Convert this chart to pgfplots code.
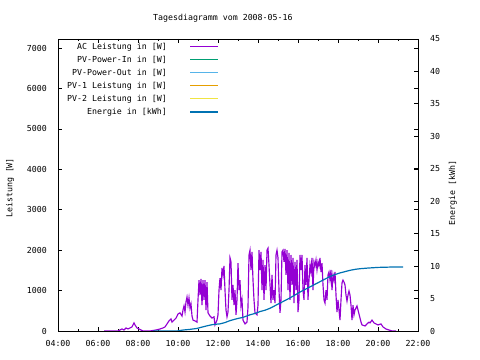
\documentclass[border=0pt]{standalone}
\usepackage{fontspec}
\setmainfont{DejaVu Sans Mono}
\usepackage{pgfplots}
\usepackage{pgfplotstable}
\pgfplotsset{compat=1.18}
\definecolor{cAC}{HTML}{9400D3}
\definecolor{cIn}{HTML}{009E73}
\definecolor{cOut}{HTML}{56B4E9}
\definecolor{cPVa}{HTML}{E69F00}
\definecolor{cPVb}{HTML}{F0E442}
\definecolor{cEn}{HTML}{0072B2}

\pgfplotstableread{
t v
6.30 0
7.00 0
7.10 25
7.20 50
7.30 25
7.40 75
7.50 50
7.60 75
7.70 100
7.80 200
7.85 150
7.95 75
8.05 50
8.15 25
8.25 0
8.60 0
8.90 25
9.10 50
9.25 75
9.35 100
9.45 175
9.55 250
9.65 300
9.70 220
9.80 270
9.90 320
10.00 420
10.10 450
10.20 370
10.25 520
10.30 620
10.35 470
10.40 720
10.45 840
10.50 640
10.55 820
10.60 570
10.65 670
10.70 370
10.75 270
10.85 250
10.95 220
11.00 770
11.05 1260
11.10 890
11.15 1290
11.20 640
11.25 1260
11.30 770
11.35 1260
11.40 520
11.45 1210
11.50 450
11.60 370
11.70 320
11.80 350
11.85 150
11.95 270
12.00 400
12.05 1010
12.10 1310
12.15 1010
12.20 1560
12.25 1390
12.30 1610
12.35 1010
12.40 520
12.45 350
12.50 470
12.55 1010
12.60 1810
12.65 1710
12.70 770
12.75 1140
12.80 640
12.85 1010
12.90 400
12.95 770
13.00 1680
13.05 1010
13.10 1260
13.15 620
13.20 770
13.25 270
13.35 175
13.45 220
13.50 590
13.55 1880
13.60 2000
13.65 1510
13.70 1960
13.75 1260
13.80 770
13.85 450
13.95 400
14.00 640
14.05 2000
14.10 1510
14.15 1960
14.20 1010
14.25 1760
14.30 770
14.35 1630
14.40 1010
14.45 2000
14.50 2050
14.55 1630
14.60 1140
14.65 690
14.70 1390
14.75 770
14.80 1010
14.85 690
14.90 1880
14.95 2000
15.00 1810
15.05 1010
15.10 450
15.15 770
15.20 1960
15.25 2000
15.30 1710
15.35 2030
15.40 1390
15.45 2000
15.50 1010
15.55 1930
15.60 770
15.65 1880
15.70 1140
15.75 1810
15.80 690
15.85 1710
15.90 1010
15.95 1760
16.00 470
16.05 770
16.10 1880
16.15 1510
16.20 1880
16.25 1010
16.30 770
16.35 1630
16.40 1140
16.45 1810
16.50 770
16.55 1260
16.60 1630
16.65 1460
16.70 1810
16.75 1010
16.80 1710
16.85 1610
16.90 1760
16.95 1510
17.00 1710
17.05 1610
17.10 1810
17.15 1460
17.20 1680
17.25 1140
17.30 770
17.35 690
17.40 1010
17.45 770
17.50 1390
17.55 1460
17.60 1260
17.65 1510
17.70 1010
17.75 1390
17.80 1260
17.85 1460
17.90 890
17.95 470
18.00 770
18.05 520
18.10 270
18.15 770
18.20 1190
18.25 1260
18.30 1210
18.35 1140
18.40 890
18.45 740
18.50 890
18.55 990
18.60 890
18.65 640
18.70 270
18.75 640
18.80 400
18.85 520
18.90 570
18.95 620
19.00 520
19.05 420
19.10 320
19.15 220
19.20 150
19.35 125
19.45 175
19.55 220
19.60 200
19.70 270
19.80 200
19.90 175
20.00 150
20.15 175
20.25 100
20.40 50
20.55 25
20.70 0
20.90 0
}\acdata

\pgfplotstableread{
t e
8.75 0
9.95 0
10.25 0.15
10.60 0.25
10.95 0.4
11.45 0.8
11.75 1.0
12.10 1.1
12.35 1.3
12.60 1.6
12.95 1.9
13.25 2.1
13.60 2.5
13.85 2.7
14.10 3.0
14.35 3.2
14.60 3.5
14.85 3.9
15.10 4.3
15.35 4.7
15.60 5.1
15.85 5.55
16.10 6.0
16.35 6.4
16.60 6.8
16.85 7.2
17.10 7.6
17.35 8.0
17.60 8.4
17.85 8.7
18.10 8.95
18.35 9.15
18.60 9.35
18.85 9.5
19.10 9.6
19.50 9.7
20.00 9.8
20.60 9.85
21.25 9.85
}\endata

\begin{document}
\fontsize{8.3}{10}\selectfont
\begin{tikzpicture}
\useasboundingbox (0,0) rectangle (480bp,360bp);
\pgfplotsset{
  every axis/.append style={
    at={(58bp,29bp)}, anchor=south west,
    scale only axis, width=360bp, height=292bp,
    xmin=4, xmax=22,
    major tick length=4bp, minor tick length=2bp,
    tick style={black, line width=0.8bp},
    axis line style={line width=0.9bp},
    /pgf/number format/assume math mode=true,
    /pgf/number format/1000 sep={},
    scaled y ticks=false,
    font=\fontsize{8.3}{10}\selectfont,
    tick label style={font=\fontsize{8.3}{10}\selectfont},
  }
}
\begin{axis}[
  ymin=0, ymax=7225,
  xtick={4,6,...,22},
  xticklabels={04:00,06:00,08:00,10:00,12:00,14:00,16:00,18:00,20:00,22:00},
  minor xtick={5,7,...,21},
  ytick={0,1000,...,7000},
  xticklabel style={inner sep=0pt, yshift=-9bp},
  yticklabel style={inner sep=0pt, xshift=-11bp},
  title={Tagesdiagramm vom 2008-05-16},
  every axis title shift=0pt,
  title style={at={(axis description cs:0.458,1.072)}, anchor=center, inner sep=0pt, yshift=0pt},
  ylabel={Leistung [W]},
  ylabel style={at={(axis description cs:-0.133,0.49)}, anchor=center, inner sep=0pt},
]
\addplot[cAC, line width=1.15bp] table[x=t, y=v] {\acdata};
\end{axis}
\begin{axis}[
  ymin=0, ymax=45,
  axis x line=none,
  axis y line*=right,
  ytick={0,5,...,45},
  yticklabel style={inner sep=0pt, xshift=12bp},
  ylabel={Energie [kWh]},
  ylabel style={at={(axis description cs:1.097,0.473)}, anchor=center, inner sep=0pt},
  legend plot pos=right,
  legend cell align=right,
  legend image code/.code={\draw[#1] (0bp,0bp) -- (28bp,0bp);},
  legend style={at={(axis description cs:0.025,0.9863)}, anchor=north west,
    draw=none, fill=none, inner sep=0pt,
    font=\fontsize{8.3}{10}\selectfont,
    row sep=5.5bp, column sep=23bp,
    nodes={inner sep=0pt, text height=6bp, text depth=1.5bp}},
]
\addlegendimage{cAC, line width=1bp}
\addlegendentry{AC Leistung in [W]}
\addlegendimage{cIn, line width=1bp}
\addlegendentry{PV-Power-In in [W]}
\addlegendimage{cOut, line width=1bp}
\addlegendentry{PV-Power-Out in [W]}
\addlegendimage{cPVa, line width=1bp}
\addlegendentry{PV-1 Leistung in [W]}
\addlegendimage{cPVb, line width=1bp}
\addlegendentry{PV-2 Leistung in [W]}
\addplot[cEn, line width=1.2bp] table[x=t, y=e] {\endata};
\addlegendentry{Energie in [kWh]}
\end{axis}
\end{tikzpicture}
\end{document}
